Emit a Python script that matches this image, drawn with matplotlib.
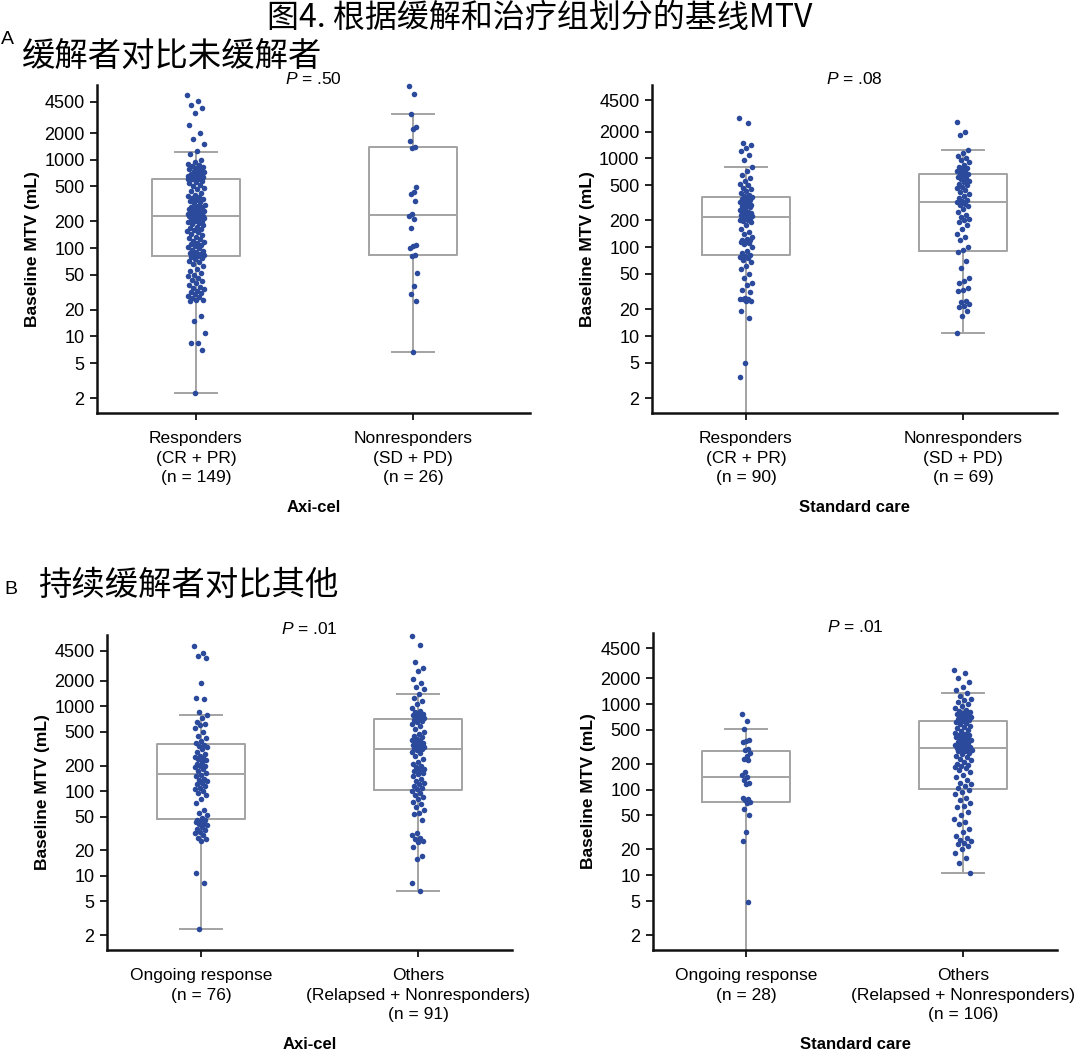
import numpy as np
import matplotlib.pyplot as plt
from matplotlib.ticker import NullLocator

plt.rcParams['font.family'] = ['Liberation Sans', 'DejaVu Sans']
plt.rcParams['mathtext.fontset'] = 'custom'
plt.rcParams['mathtext.it'] = 'Liberation Sans:italic'
plt.rcParams['mathtext.rm'] = 'Liberation Sans'
CJK = ['Noto Sans CJK SC', 'DejaVu Sans']

# ---- values (baseline MTV, mL) ----
# A: responders vs nonresponders
axi_resp = [5400, 4600, 4200, 3800, 3400, 2500, 2000, 1700, 1500, 1250, 1150, 1000,
            950, 900, 870, 850, 820, 800, 780, 760, 740, 720, 700, 690, 680, 670, 660,
            650, 640, 630, 625, 620, 615, 610, 605, 600, 598,
            580, 560, 540, 520, 500, 480, 460, 440, 420, 400, 390, 380, 370, 360, 350,
            340, 330, 320, 310, 300, 295, 290, 285, 280, 275, 270, 265, 260, 255, 250,
            245, 240, 238, 235, 233, 231, 230,
            229,
            225, 220, 215, 210, 205, 200, 195, 190, 185, 180, 175, 170, 165, 160, 155,
            150, 145, 140, 135, 130, 125, 120, 117, 114, 111, 108, 105, 102, 99, 96, 93,
            90, 88, 86, 84, 83, 82,
            80, 78, 75, 72, 70, 66, 62, 58, 55, 52, 50, 48, 46, 44, 42, 40, 38, 36, 35,
            34, 33, 32, 31, 30, 29, 28, 27, 26, 26, 25, 17, 15, 11, 8.5, 8.4, 7, 2.3]
axi_nonresp = [6810, 5530, 3300, 2355, 2240, 1640, 1400, 1370, 485, 430, 410, 337, 240,
               230, 215, 168, 108, 105, 101, 83, 82, 52, 37, 30, 25, 6.6]
soc_resp = [2820, 2480, 1500, 1400, 1300, 1200, 1100, 950, 800, 720, 650, 600, 560, 520,
            500, 470, 450, 430, 410, 390, 380, 370,
            360, 350, 340, 330, 320, 310, 305, 300, 295, 290, 280, 270, 260, 250, 245,
            240, 235, 230, 228, 225, 222, 220,
            217,
            214, 210, 205, 200, 195, 190, 180, 160, 150, 140, 130, 125, 122, 120, 118,
            115, 112, 110, 100, 90, 85, 82,
            80, 78, 76, 72, 68, 62, 57, 50, 45, 40, 38, 33, 31, 27, 26, 26, 26, 25, 25,
            19, 16, 5, 3.5]
soc_nonresp = [2600, 2000, 1850, 1230, 1150, 1050, 1000, 950, 900, 850, 800, 780, 750,
               720, 700, 680, 670,
               650, 620, 600, 580, 560, 540, 520, 500, 480, 460, 440, 420, 400, 380, 360,
               340, 330,
               320,
               310, 300, 290, 270, 250, 230, 220, 210, 200, 190, 180, 160, 140, 130, 120,
               100, 92,
               88, 70, 58, 45, 42, 40, 35, 33, 32, 25, 24, 23, 22, 21, 19, 17, 10.8]

# B: ongoing response vs others
axi_ongoing = [5160, 4200, 3900, 3700, 1900, 1240, 1220, 850, 780, 720, 650, 620, 600,
               560, 500, 450, 420, 390, 370,
               350, 340, 330, 310, 290, 270, 260, 250, 245, 240, 230, 220, 210, 200, 195,
               190, 180, 170, 165,
               155, 150, 140, 135, 130, 125, 120, 115, 110, 105, 100, 95, 90, 80, 72, 60,
               55, 52, 48,
               46, 45, 44, 43, 42, 41, 40, 38, 36, 35, 33, 32, 30, 28, 27, 26, 10.9, 8.3, 2.35]
axi_others = [6750, 5300, 3300, 2800, 2600, 2100, 1900, 1700, 1600, 1380, 1250, 1150, 1050,
              950, 880, 850, 820, 800, 780, 760, 740, 720, 710,
              690, 670, 650, 620, 580, 540, 500, 470, 450, 430, 410, 400, 390, 380, 370,
              360, 350, 340, 335, 330, 325, 320,
              314,
              305, 290, 280, 260, 240, 220, 210, 200, 190, 180, 175, 170, 165, 160, 150,
              140, 130, 125, 120, 115, 110, 106,
              100, 95, 90, 85, 80, 75, 70, 65, 60, 55, 53, 45, 32, 30, 28, 27, 26, 25, 22,
              17, 15.8, 8.2, 6.7]
soc_ongoing = [764, 632, 510, 380, 370, 360, 300, 290, 270, 250, 230, 220, 160, 150, 140,
               130, 120, 115, 80, 78, 75, 72, 70, 60, 50, 32, 25, 4.9]
soc_others = [2500, 2300, 2000, 1800, 1600, 1450, 1340, 1250, 1150, 1100, 1050, 1000, 950,
              900, 860, 830, 800, 780, 760, 740, 720, 700, 680, 660, 650, 640,
              620, 600, 580, 560, 540, 520, 500, 480, 460, 450, 440, 430, 420, 410, 400,
              390, 380, 370, 360, 350, 340, 330, 325, 320, 315, 310,
              306,
              300, 295, 290, 285, 280, 270, 260, 250, 240, 230, 220, 210, 200, 195, 190,
              185, 180, 170, 160, 150, 140, 130, 120, 115, 110, 105,
              100, 95, 90, 80, 75, 70, 65, 62, 55, 50, 46, 42, 40, 35, 32, 29, 27, 26, 25,
              24, 23, 22, 20, 18, 16, 14, 10.6]

# box summaries: q1, median, q3, lower whisker, upper whisker
# (lower whisker of two groups runs below the axis)
axi_resp_box = [81, 229, 597, 2.28, 1233]
axi_nonresp_box = [83, 235, 1403, 6.6, 3300]
soc_resp_box = [81, 217, 365, 1.0, 793]
soc_nonresp_box = [90, 320, 662, 10.8, 1233]
axi_ongoing_box = [46.5, 160, 360, 2.35, 784]
axi_others_box = [104, 314, 704, 6.7, 1380]
soc_ongoing_box = [71.6, 140, 282, 1.0, 510]
soc_others_box = [102, 306, 632, 10.6, 1343]

resp_labels = ['Responders\n(CR + PR)\n(n = 149)', 'Nonresponders\n(SD + PD)\n(n = 26)']
resp_labels_soc = ['Responders\n(CR + PR)\n(n = 90)', 'Nonresponders\n(SD + PD)\n(n = 69)']
ongo_labels = ['Ongoing response\n(n = 76)', 'Others\n(Relapsed + Nonresponders)\n(n = 91)']
ongo_labels_soc = ['Ongoing response\n(n = 28)', 'Others\n(Relapsed + Nonresponders)\n(n = 106)']

yticks = [2, 5, 10, 20, 50, 100, 200, 500, 1000, 2000, 4500]

BLUE = '#2b4a9c'
GRAY = '#a3a3a3'
W, H = 1080, 1057


def px_axes(fig, x0, x1, y0, y1):
    return fig.add_axes([x0 / W, 1 - y1 / H, (x1 - x0) / W, (y1 - y0) / H])


def box_stats(b):
    q1, med, q3, lo, hi = b
    return dict(q1=q1, med=med, q3=q3, whislo=lo, whishi=hi, fliers=[])


def draw_panel(ax, groups, boxes, labels, group_name, p_text, xlim, ylim):
    ax.bxp([box_stats(b) for b in boxes], positions=[0, 1], widths=0.405,
           capwidths=0.195, showfliers=False,
           boxprops=dict(color=GRAY, lw=1.4),
           whiskerprops=dict(color=GRAY, lw=1.4),
           capprops=dict(color=GRAY, lw=1.4),
           medianprops=dict(color=GRAY, lw=1.4))
    for pos, vals in enumerate(groups):
        vals = np.asarray(vals, dtype=float)
        jw = 0.04 if len(vals) > 100 else (0.03 if len(vals) > 60 else 0.018)
        offs = jw * 2 * (((np.arange(len(vals)) * 0.618034) % 1) - 0.5)
        ax.scatter(pos + offs, vals, s=16, color=BLUE, linewidths=0,
                   zorder=3, clip_on=False)

    ax.set_yscale('log')
    ax.set_ylim(*ylim)
    ax.set_xlim(*xlim)
    ax.set_yticks(yticks)
    ax.set_yticklabels([str(t) for t in yticks])
    ax.yaxis.set_minor_locator(NullLocator())
    ax.set_xticks([0, 1])
    ax.set_xticklabels(labels, linespacing=1.38)
    ax.tick_params(axis='both', labelsize=12.5, length=5, width=1.4, color='#222222',
                   direction='out', pad=4)
    ax.tick_params(axis='y', labelsize=13)
    ax.tick_params(axis='x', pad=8)
    for s in ['top', 'right']:
        ax.spines[s].set_visible(False)
    for s in ['left', 'bottom']:
        ax.spines[s].set_linewidth(1.8)
        ax.spines[s].set_color('#111111')
    ax.set_ylabel('Baseline MTV (mL)', fontsize=12.5, fontweight='bold', labelpad=3)
    ax.set_xlabel(group_name, fontsize=12, fontweight='bold', labelpad=11)
    ax.annotate(p_text, xy=(0.5, 1), xycoords='axes fraction', xytext=(0, 4),
                textcoords='offset points', ha='center', va='center', fontsize=12.5)


fig = plt.figure(figsize=(W / 100, H / 100), dpi=100)

ax1 = px_axes(fig, 97, 530, 85, 413)
draw_panel(ax1, [axi_resp, axi_nonresp], [axi_resp_box, axi_nonresp_box], resp_labels,
           'Axi-cel', r'$P$ = .50', (-0.456, 1.539), (1.36, 7000))
ax2 = px_axes(fig, 652, 1057, 85, 413)
draw_panel(ax2, [soc_resp, soc_nonresp], [soc_resp_box, soc_nonresp_box], resp_labels_soc,
           'Standard care', r'$P$ = .08', (-0.433, 1.433), (1.36, 6700))
ax3 = px_axes(fig, 107, 512, 635, 950)
draw_panel(ax3, [axi_ongoing, axi_others], [axi_ongoing_box, axi_others_box], ongo_labels,
           'Axi-cel', r'$P$ = .01', (-0.433, 1.433), (1.34, 6900))
ax4 = px_axes(fig, 653, 1057, 633, 950)
draw_panel(ax4, [soc_ongoing, soc_others], [soc_ongoing_box, soc_others_box], ongo_labels_soc,
           'Standard care', r'$P$ = .01', (-0.429, 1.433), (1.34, 6750))

fig.text(540 / W, 1 - 18 / H, '图4. 根据缓解和治疗组划分的基线MTV', family=CJK,
         fontsize=23, ha='center', va='center')
fig.text(7 / W, 1 - 39 / H, 'A', fontsize=14, ha='center', va='center')
fig.text(22 / W, 1 - 56 / H, '缓解者对比未缓解者', family=CJK, fontsize=24,
         ha='left', va='center')
fig.text(11 / W, 1 - 590 / H, 'B', fontsize=14, ha='center', va='center')
fig.text(38 / W, 1 - 585 / H, '持续缓解者对比其他', family=CJK, fontsize=24,
         ha='left', va='center')

fig.savefig('out.png', dpi=100, facecolor='white')
